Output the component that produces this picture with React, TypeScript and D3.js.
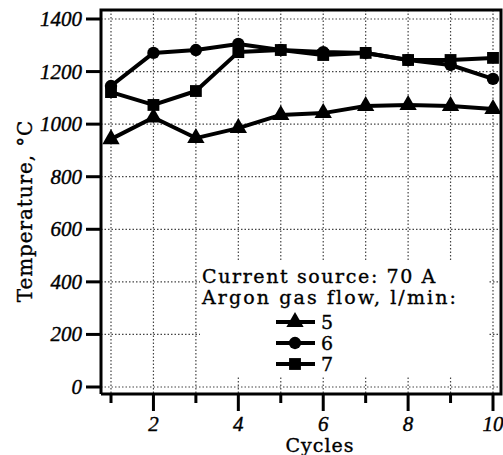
import React from "react";
import * as d3 from "d3";

const cycles = [1, 2, 3, 4, 5, 6, 7, 8, 9, 10];
const flow5 = [943, 1025, 947, 985, 1035, 1042, 1069, 1073, 1069, 1058];
const flow6 = [1145, 1271, 1282, 1305, 1282, 1274, 1271, 1244, 1225, 1172];
const flow7 = [1122, 1073, 1126, 1274, 1282, 1263, 1271, 1244, 1244, 1252];
const yTicks = [0, 200, 400, 600, 800, 1000, 1200, 1400];
const xLabels = [2, 4, 6, 8, 10];
const seriesNames = ["5", "6", "7"];

const W = 503;
const H = 455;
const left = 101;
const bottom = 394;
const top = 10;
const right = 501;
const font = "'DejaVu Serif', serif";
const tickFont = "'Liberation Serif', serif";

export default function App() {
  const x = d3.scaleLinear().domain([1, 10]).range([111, 493]);
  const y = d3.scaleLinear().domain([0, 1400]).range([387, 19]);
  const line = d3
    .line<number>()
    .x((_, i) => x(cycles[i]))
    .y((d) => y(d));

  const series = [
    { name: seriesNames[0], data: flow5, shape: d3.symbolTriangle, size: 130 },
    { name: seriesNames[1], data: flow6, shape: d3.symbolCircle, size: 120 },
    { name: seriesNames[2], data: flow7, shape: d3.symbolSquare, size: 140 },
  ];

  const txt = { fontFamily: font, stroke: "#000", strokeWidth: 0.35 };
  const tick = { fontFamily: tickFont, fontStyle: "italic", fontSize: 21, stroke: "#000", strokeWidth: 0.4 };

  return (
    <svg width={W} height={H} style={{ position: "absolute", left: 0, top: 0, background: "#fff" }}>
      {/* grid */}
      <g stroke="#444" strokeWidth={1.2} strokeDasharray="1.5,2">
        {yTicks.map((t) => (
          <line key={"h" + t} x1={left} x2={right} y1={y(t)} y2={y(t)} />
        ))}
        {cycles.map((c) => (
          <line key={"v" + c} x1={x(c)} x2={x(c)} y1={top} y2={bottom} />
        ))}
      </g>
      {/* legend background */}
      <rect x={200} y={262} width={288} height={115} fill="#fff" />
      <rect x={200} y={330} width={20} height={47} fill="#fff" />

      {/* frame */}
      <path d={`M${left},${bottom}V${top}H${right}V${bottom}H${left}`} fill="none" stroke="#000" strokeWidth={3} />

      {/* y ticks */}
      {yTicks.map((t) => (
        <g key={"yt" + t}>
          <line x1={86} x2={left} y1={y(t)} y2={y(t)} stroke="#000" strokeWidth={3} />
          <text x={82} y={y(t) + 7} textAnchor="end" {...tick}>
            {t}
          </text>
        </g>
      ))}
      {/* x ticks */}
      {cycles.map((c) => (
        <line key={"xt" + c} x1={x(c)} x2={x(c)} y1={bottom} y2={c % 2 === 0 ? 411 : 403} stroke="#000" strokeWidth={3} />
      ))}
      {xLabels.map((c) => (
        <text key={"xl" + c} x={x(c)} y={431} textAnchor="middle" {...tick}>
          {c}
        </text>
      ))}
      <text x={320} y={452} textAnchor="middle" fontSize={19} letterSpacing={1} {...txt}>
        Cycles
      </text>
      <text transform="translate(32,211) rotate(-90)" textAnchor="middle" fontSize={20} letterSpacing={0.9} {...txt}>
        Temperature, °C
      </text>

      {/* series */}
      {series.map((s) => (
        <g key={s.name}>
          <path d={line(s.data) || ""} fill="none" stroke="#000" strokeWidth={4} strokeLinejoin="round" />
          {s.data.map((v, i) => (
            <path
              key={i}
              d={d3.symbol().type(s.shape).size(s.size)() || ""}
              transform={`translate(${x(cycles[i])},${y(v)})`}
              fill="#000"
            />
          ))}
        </g>
      ))}

      {/* legend */}
      <text x={202} y={283} fontSize={19} letterSpacing={1.6} {...txt}>
        Current source: 70 A
      </text>
      <text x={202} y={304} fontSize={19} letterSpacing={2.1} {...txt}>
        Argon gas flow, l/min:
      </text>
      {series.map((s, i) => {
        const ly = 322 + i * 21;
        return (
          <g key={"lg" + s.name}>
            <line x1={276} x2={315} y1={ly} y2={ly} stroke="#000" strokeWidth={4} />
            <path d={d3.symbol().type(s.shape).size(s.size)() || ""} transform={`translate(295,${ly})`} fill="#000" />
            <text x={321} y={ly + 7} fontSize={19} {...txt}>
              {s.name}
            </text>
          </g>
        );
      })}
    </svg>
  );
}
